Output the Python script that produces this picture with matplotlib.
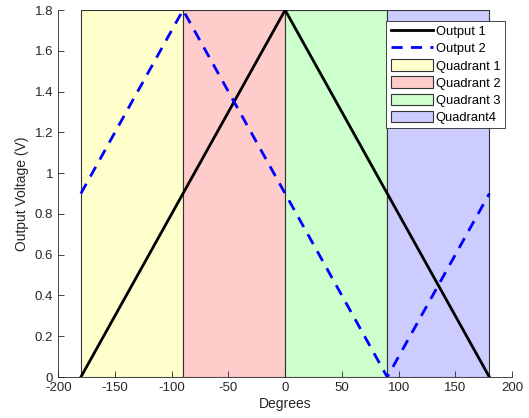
import matplotlib
matplotlib.use("Agg")
import matplotlib.pyplot as plt
import numpy as np

plt.rcParams['font.family'] = ['Liberation Sans', 'DejaVu Sans']
plt.rcParams['axes.unicode_minus'] = False

# data
out1_x = [-180, 0, 180]
out1_y = [0, 1.8, 0]
out2_x = [-180, -90, 90, 180]
out2_y = [0.9, 1.8, 0, 0.9]
quad_edges = [-180, -90, 0, 90, 180]
quad_labels = ["Quadrant 1", "Quadrant 2", "Quadrant 3", "Quadrant4"]
quad_colors = ["#ffffcc", "#ffcccc", "#ccffcc", "#ccccff"]


def main():
    fig = plt.figure(figsize=(5.29, 4.18), dpi=100)
    ax = fig.add_axes([0.110, 0.098, 0.858, 0.878])

    l1, = ax.plot(out1_x, out1_y, color="black", lw=2, label="Output 1")
    l2, = ax.plot(out2_x, out2_y, color="#0000ff", lw=2, ls=(0, (4, 3)),
                  label="Output 2")
    patches = []
    for i in range(4):
        p = ax.axvspan(quad_edges[i], quad_edges[i + 1], ymin=0, ymax=1,
                       facecolor=quad_colors[i], edgecolor="#333333",
                       lw=0.8, zorder=0, label=quad_labels[i])
        patches.append(p)

    ax.set_xlim(-200, 200)
    ax.set_ylim(0, 1.8)
    ax.set_xticks(np.arange(-200, 201, 50))
    ax.set_yticks(np.arange(0, 1.81, 0.2))
    ax.set_yticklabels(["0", "0.2", "0.4", "0.6", "0.8", "1", "1.2",
                        "1.4", "1.6", "1.8"])
    ax.tick_params(direction="in", length=4, labelsize=9.5, width=0.6,
                   colors="#262626")
    ax.spines["top"].set_visible(False)
    ax.spines["right"].set_visible(False)
    for s in ["left", "bottom"]:
        ax.spines[s].set_linewidth(0.6)
        ax.spines[s].set_color("#262626")
    ax.set_xlabel("Degrees", fontsize=10, color="#262626", labelpad=2)
    ax.set_ylabel("Output Voltage (V)", fontsize=10, color="#262626",
                  labelpad=4)

    leg = ax.legend(handles=[l1, l2] + patches, loc="upper right",
                    bbox_to_anchor=(0.99, 0.978), fontsize=9.3,
                    fancybox=False, framealpha=1, edgecolor="#262626",
                    borderpad=0.35, labelspacing=0.3, handlelength=3.3,
                    handleheight=1.0, handletextpad=0.2, borderaxespad=0.2)
    leg.get_frame().set_linewidth(0.6)

    fig.savefig("out.png", dpi=100)


if __name__ == "__main__":
    main()
